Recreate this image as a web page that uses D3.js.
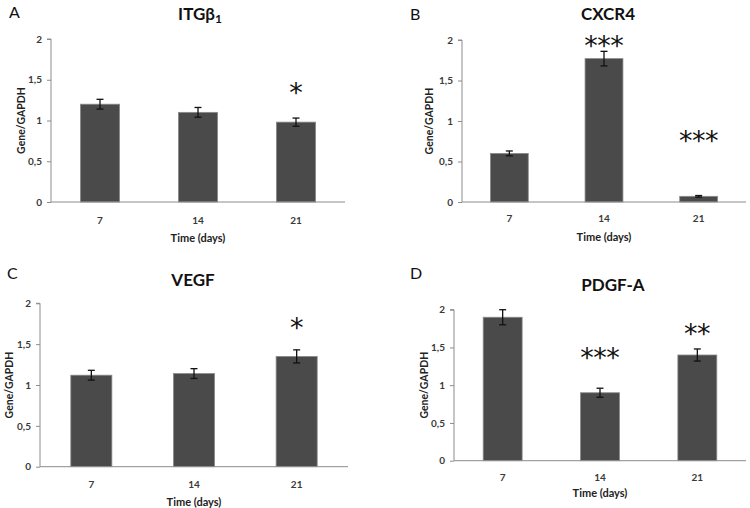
<!DOCTYPE html>
<html>
<head>
<meta charset="utf-8">
<script src="https://cdn.jsdelivr.net/npm/d3@7"></script>
<style>
  body { margin: 0; background: #fff; }
  svg { display: block; font-family: Lato, "Open Sans", sans-serif; }
</style>
</head>
<body>
<svg id="fig" width="750" height="508"></svg>
<script>
// values (Gene/GAPDH, mean +- error)
var days = ["7", "14", "21"];
var yTicks = [0, 0.5, 1, 1.5, 2];

var itgb1 = [1.20, 1.10, 0.98];
var itgb1Err = [0.06, 0.06, 0.05];
var itgb1Sig = ["", "", "*"];
var itgb1SigAt = [0, 0, 1.38];

var cxcr4 = [0.60, 1.77, 0.07];
var cxcr4Err = [0.03, 0.09, 0.01];
var cxcr4Sig = ["", "***", "***"];
var cxcr4SigAt = [0, 1.96, 0.79];

var vegf = [1.12, 1.14, 1.35];
var vegfErr = [0.06, 0.06, 0.08];
var vegfSig = ["", "", "*"];
var vegfSigAt = [0, 0, 1.73];

var pdgfa = [1.90, 0.90, 1.40];
var pdgfaErr = [0.10, 0.06, 0.08];
var pdgfaSig = ["", "***", "**"];
var pdgfaSigAt = [0, 1.40, 1.72];

var svg = d3.select("#fig");

var panels = [
  {letter: "A", title: "ITGβ", sub: "1", vals: itgb1, err: itgb1Err, sig: itgb1Sig, sigAt: itgb1SigAt,
   x0: 51, x1: 345, y0: 202, y2: 39, letterX: 9, letterY: 18, titleX: 200, titleY: 20,
   yTitleX: 21, xLabY: 224, xTitleY: 242},
  {letter: "B", title: "CXCR4", vals: cxcr4, err: cxcr4Err, sig: cxcr4Sig, sigAt: cxcr4SigAt,
   x0: 462, x1: 746, y0: 202, y2: 40, letterX: 410, letterY: 20, titleX: 608, titleY: 20,
   yTitleX: 429, xLabY: 222, xTitleY: 241},
  {letter: "C", title: "VEGF", vals: vegf, err: vegfErr, sig: vegfSig, sigAt: vegfSigAt,
   x0: 40, x1: 348, y0: 466.7, y2: 303.3, letterX: 7, letterY: 279, titleX: 193, titleY: 286,
   yTitleX: 9, xLabY: 488, xTitleY: 506},
  {letter: "D", title: "PDGF-A", vals: pdgfa, err: pdgfaErr, sig: pdgfaSig, sigAt: pdgfaSigAt,
   x0: 454, x1: 746, y0: 460.7, y2: 309.7, letterX: 410, letterY: 279, titleX: 613, titleY: 291,
   yTitleX: 424, xLabY: 481, xTitleY: 497}
];

panels.forEach(function(p) {
  var x = d3.scaleBand().domain(days).range([p.x0, p.x1]).paddingInner(0.6).paddingOuter(0.3);
  var y = d3.scaleLinear().domain([0, 2]).range([p.y0, p.y2]);
  var g = svg.append("g");

  // panel letter + title
  g.append("text").attr("x", p.letterX).attr("y", p.letterY)
    .attr("font-size", 16).attr("fill", "#111").text(p.letter);
  var t = g.append("text").attr("x", p.titleX).attr("y", p.titleY)
    .attr("text-anchor", "middle").attr("font-size", 17).attr("font-weight", "bold")
    .attr("fill", "#111").text(p.title);
  if (p.sub) t.append("tspan").attr("font-size", 12).attr("dy", 3).text(p.sub);

  // bars
  g.selectAll(".bar").data(p.vals).enter().append("rect")
    .attr("x", function(d, i) { return x(days[i]); })
    .attr("y", function(d) { return y(d); })
    .attr("width", x.bandwidth())
    .attr("height", function(d) { return p.y0 - y(d); })
    .attr("fill", "#4a4a4a")
    .attr("stroke", "#8a8a8a")
    .attr("stroke-width", 0.8);

  // error bars
  var eb = g.selectAll(".err").data(p.vals).enter().append("g")
    .attr("stroke", "#111").attr("stroke-width", 1.3);
  eb.append("line")
    .attr("x1", function(d, i) { return x(days[i]) + x.bandwidth() / 2; })
    .attr("x2", function(d, i) { return x(days[i]) + x.bandwidth() / 2; })
    .attr("y1", function(d, i) { return y(d - p.err[i]); })
    .attr("y2", function(d, i) { return y(d + p.err[i]); });
  [-1, 1].forEach(function(s) {
    eb.append("line")
      .attr("x1", function(d, i) { return x(days[i]) + x.bandwidth() / 2 - 3.5; })
      .attr("x2", function(d, i) { return x(days[i]) + x.bandwidth() / 2 + 3.5; })
      .attr("y1", function(d, i) { return y(d + s * p.err[i]); })
      .attr("y2", function(d, i) { return y(d + s * p.err[i]); });
  });

  // significance stars, one text per star
  p.sig.forEach(function(s, i) {
    var n = s.length;
    for (var k = 0; k < n; k++) {
      g.append("text")
        .attr("x", x(days[i]) + x.bandwidth() / 2 + (k - (n - 1) / 2) * 13)
        .attr("y", y(p.sigAt[i]) + 12)
        .attr("text-anchor", "middle")
        .attr("font-size", 27)
        .attr("font-family", "DejaVu Sans, sans-serif")
        .attr("fill", "#111")
        .text("*");
    }
  });

  // y axis
  var ya = g.append("g")
    .attr("transform", "translate(" + p.x0 + ",0)")
    .call(d3.axisLeft(y).tickValues(yTicks).tickSize(4).tickPadding(5)
      .tickFormat(function(d) { return String(d).replace(".", ","); }));
  ya.select(".domain").attr("stroke", "#8c8c8c").attr("d", "M-4," + p.y2 + "H0V" + p.y0);
  ya.selectAll(".tick line").attr("stroke", "#8c8c8c");
  ya.selectAll(".tick text").attr("font-size", 10).attr("font-weight", "bold")
    .attr("fill", "#3a3a3a").attr("font-family", "Lato, sans-serif");

  // x axis (line only)
  var xa = g.append("g")
    .attr("transform", "translate(0," + p.y0 + ")")
    .call(d3.axisBottom(x).tickSize(0).tickPadding(0));
  xa.select(".domain").attr("stroke", "#8c8c8c").attr("d", "M" + p.x0 + ",0H" + p.x1);
  xa.selectAll(".tick text").attr("y", p.xLabY - p.y0).attr("dy", 0)
    .attr("font-size", 10).attr("font-weight", "bold").attr("fill", "#3a3a3a")
    .attr("font-family", "Lato, sans-serif");

  g.append("text").attr("x", (p.x0 + p.x1) / 2).attr("y", p.xTitleY)
    .attr("text-anchor", "middle").attr("font-size", 11).attr("font-weight", "bold")
    .attr("fill", "#222").text("Time (days)");

  g.append("text")
    .attr("transform", "translate(" + (p.yTitleX + 3.5) + "," + ((p.y0 + p.y2) / 2) + ") rotate(-90)")
    .attr("text-anchor", "middle").attr("font-size", 10.5).attr("font-weight", "bold")
    .attr("fill", "#222").text("Gene/GAPDH");
});
</script>
</body>
</html>
